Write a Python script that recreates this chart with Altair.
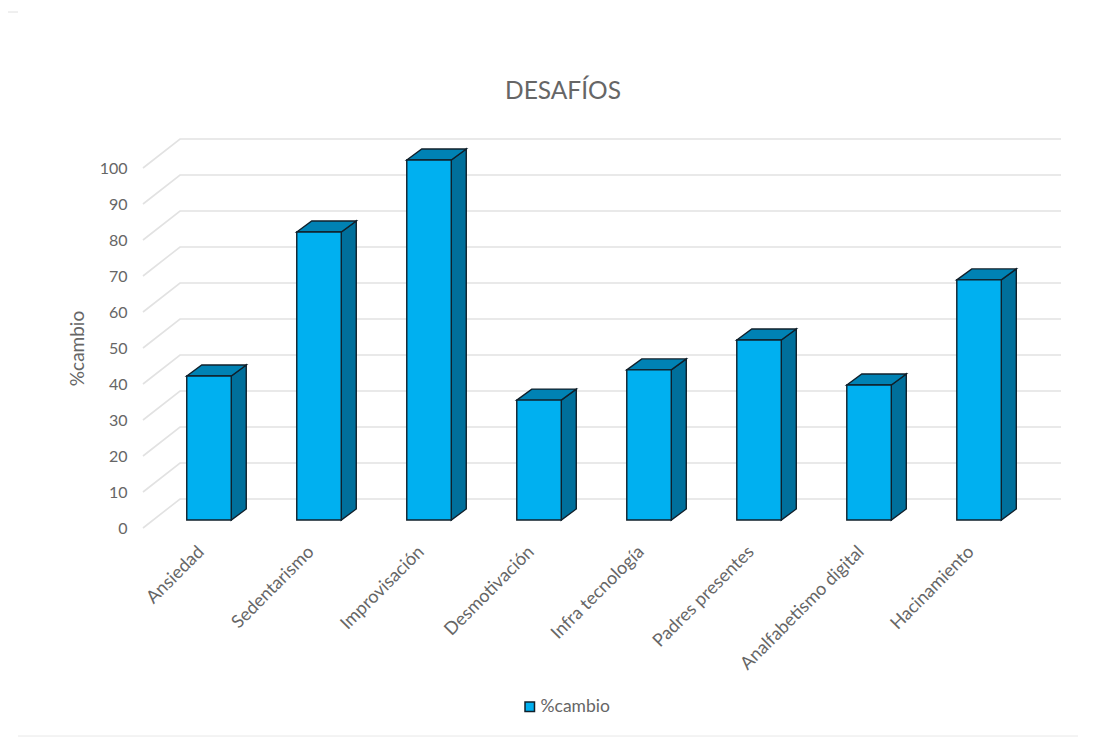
import altair as alt
import pandas as pd

categories = ["Ansiedad", "Sedentarismo", "Improvisación", "Desmotivación", "Infra tecnología",
              "Padres presentes", "Analfabetismo digital", "Hacinamiento"]
values = [40, 80, 100, 33.3, 41.7, 50, 37.5, 66.7]
ticks = list(range(0, 101, 10))

PX_X, PX_Y = 110.0, 3.6
BAR_W = 44.5 / PX_X
BAR_DX, BAR_DY = 15 / PX_X, 11 / PX_Y
BASE = 8 / PX_Y
WALL_DY = 29 / PX_Y
X_MIN, X_MAX = -0.6, 7.745
W = 918
H = 396
FONT = "Lato"
TXT = "#666666"
INK = "#10202b"
Y_TITLE = "%cambio"

xs = alt.Scale(domain=[X_MIN, X_MAX], nice=False, zero=False)
ys = alt.Scale(domain=[0, 110], nice=False, zero=False)
X = lambda f: alt.X(f, type="quantitative", scale=xs, title=None)
Y = lambda f: alt.Y(f, type="quantitative", scale=ys, title=Y_TITLE)

grid_rows = []
for t in ticks:
    grid_rows += [{"t": t, "k": 0, "x": X_MIN, "y": t},
                  {"t": t, "k": 1, "x": X_MIN + 37 / PX_X, "y": t + WALL_DY},
                  {"t": t, "k": 2, "x": X_MAX, "y": t + WALL_DY}]

front, side, top = [], [], []
for i, (c, v) in enumerate(zip(categories, values)):
    l, r = i - BAR_W / 2, i + BAR_W / 2
    f = v + BASE
    front.append({"s": "%cambio", "c": c, "x": l, "x2": r, "y": f, "y2": BASE})
    side += [{"c": c, "x": r, "y": f, "y2": BASE},
             {"c": c, "x": r + BAR_DX, "y": f + BAR_DY, "y2": BASE + BAR_DY}]
    top += [{"c": c, "x": l, "y": f, "y2": f},
            {"c": c, "x": l + BAR_DX, "y": f + BAR_DY, "y2": f},
            {"c": c, "x": r, "y": f + BAR_DY, "y2": f},
            {"c": c, "x": r + BAR_DX, "y": f + BAR_DY, "y2": f + BAR_DY}]

label_expr = "[" + ",".join(f"'{c}'" for c in categories) + "][datum.value]"

grid = alt.Chart(pd.DataFrame(grid_rows)).mark_line(color="#e2e2e2", strokeWidth=1.6).encode(
    x=alt.X("x:Q", scale=xs, title=None,
            axis=alt.Axis(values=list(range(8)), tickCount=20, labelExpr=label_expr, labelAngle=315,
                          labelAlign="right", labelBaseline="middle", labelFont=FONT, labelFontSize=18,
                          labelColor=TXT, labelPadding=21, labelOffset=-8, labelOverlap=False,
                          labelBound=False, labelFlush=False, ticks=False, domain=False, grid=False,
                          labelLimit=300)),
    y=alt.Y("y:Q", scale=ys, title=Y_TITLE,
            axis=alt.Axis(values=ticks, tickCount=20, labelFont=FONT, labelFontSize=16, labelColor=TXT,
                          labelPadding=16, labelOverlap=False, ticks=False, domain=False, grid=False,
                          titleFont=FONT, titleFontSize=19, titleFontWeight="normal", titleColor=TXT,
                          titlePadding=12, titleY=216)),
    detail="t:N", order="k:Q")

side_l = alt.Chart(pd.DataFrame(side)).mark_area(color="#006F9B", stroke=INK, strokeWidth=1.4).encode(
    x=X("x"), y=Y("y"), y2="y2:Q", detail="c:N")
top_l = alt.Chart(pd.DataFrame(top)).mark_area(color="#0082B4", stroke=INK, strokeWidth=1.4).encode(
    x=X("x"), y=Y("y"), y2="y2:Q", detail="c:N")
front_l = alt.Chart(pd.DataFrame(front)).mark_rect(stroke=INK, strokeWidth=1.4).encode(
    x=X("x"), x2="x2:Q", y=Y("y"), y2="y2:Q",
    color=alt.Color("s:N", scale=alt.Scale(domain=["%cambio"], range=["#00B0F0"]),
                    legend=alt.Legend(title=None, orient="none", legendX=378, legendY=566,
                                      symbolType="square", symbolSize=90, symbolStrokeColor=INK,
                                      symbolStrokeWidth=1.5, labelFont=FONT, labelFontSize=17.5,
                                      labelColor=TXT, labelOffset=2)))

edge = pd.DataFrame({"a": [0]})
edge_top = alt.Chart(edge).mark_rule(color="#e0e0e0", strokeWidth=1).encode(
    x=alt.value(-135), x2=alt.value(-125), y=alt.value(-120))
edge_bot = alt.Chart(edge).mark_rule(color="#e8e8e8", strokeWidth=1).encode(
    x=alt.value(-125), x2=alt.value(935), y=alt.value(604))

chart = alt.layer(edge_top, edge_bot, grid, side_l, top_l, front_l).properties(
    width=W, height=H,
    title=alt.TitleParams("DESAFÍOS", font=FONT, fontSize=24.5, fontWeight="normal", color=TXT,
                          anchor="middle", dx=-39, offset=0, dy=93),
    autosize=alt.AutoSizeParams(type="none"),
    padding={"left": 135, "top": 124, "right": 25, "bottom": 209},
    background="white",
).configure_view(stroke=None)

chart.save("out.html", embed_options={"renderer": "svg", "actions": False})
